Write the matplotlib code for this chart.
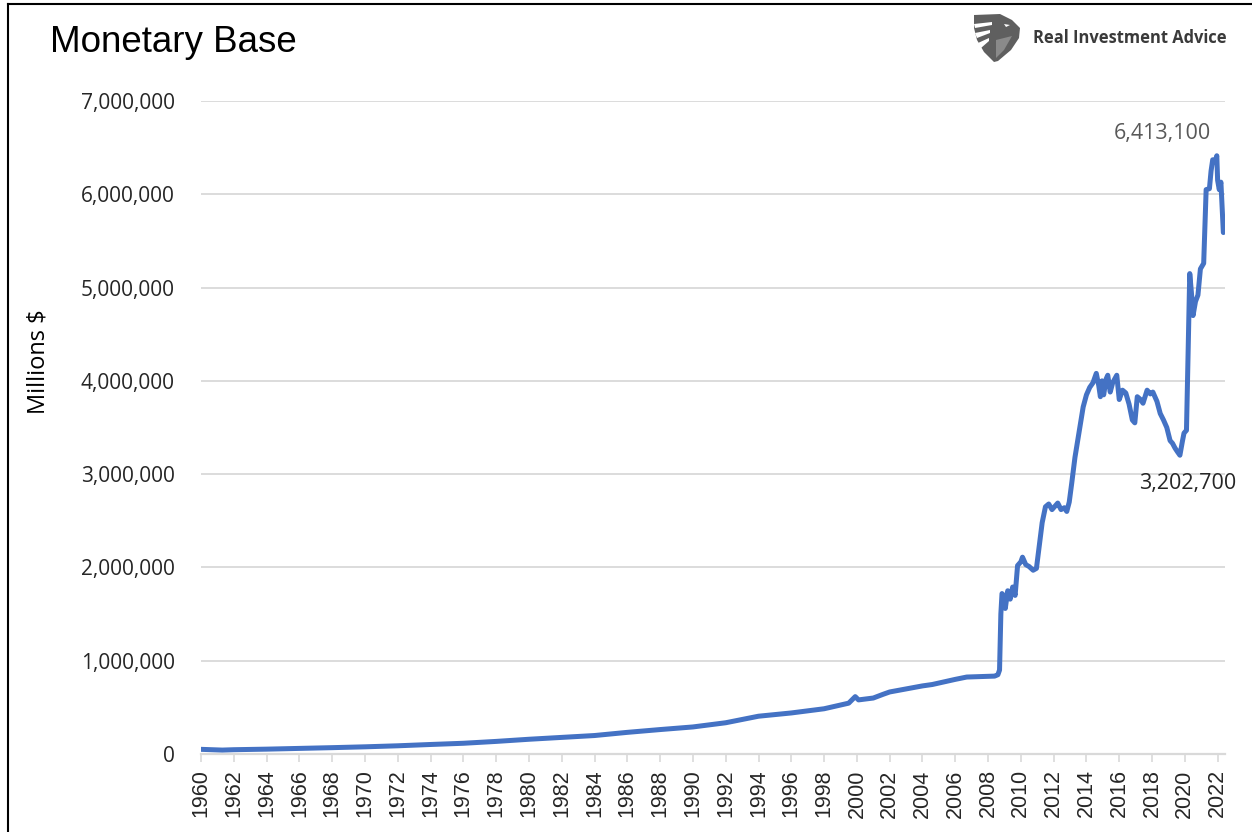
import matplotlib
matplotlib.use("Agg")
import matplotlib.pyplot as plt
from matplotlib.patches import Polygon
from matplotlib.lines import Line2D
from matplotlib.transforms import IdentityTransform

# ---- data (millions $) ----
years = [1960.0, 1961.3, 1962.0, 1964.0, 1966.0, 1968.0, 1970.0, 1972.0, 1974.0,
         1976.0, 1978.0, 1980.0, 1982.0, 1984.0, 1986.0, 1988.0, 1990.0, 1992.0,
         1994.0, 1996.0, 1998.0, 1999.5, 1999.9, 2000.1, 2001.0, 2001.6, 2002.0,
         2004.0, 2004.6, 2006.0, 2006.7, 2008.4, 2008.6, 2008.7, 2008.78, 2008.85,
         2008.95, 2009.05, 2009.2, 2009.35, 2009.5, 2009.65, 2009.8, 2010.0, 2010.1,
         2010.3, 2010.5, 2010.75, 2010.95, 2011.1, 2011.3, 2011.5, 2011.7, 2011.9,
         2012.1, 2012.25, 2012.45, 2012.65, 2012.8, 2012.95, 2013.1, 2013.3, 2013.55,
         2013.8, 2014.0, 2014.2, 2014.4, 2014.6, 2014.75, 2014.85, 2014.95, 2015.05,
         2015.2, 2015.3, 2015.45, 2015.6, 2015.85, 2016.0, 2016.2, 2016.4, 2016.6,
         2016.8, 2016.95, 2017.1, 2017.3, 2017.45, 2017.7, 2017.9, 2018.05, 2018.3,
         2018.5, 2018.7, 2018.9, 2019.1, 2019.25, 2019.4, 2019.55, 2019.7, 2019.85,
         2019.95, 2020.1, 2020.2, 2020.3, 2020.4, 2020.5, 2020.65, 2020.8, 2020.95,
         2021.15, 2021.3, 2021.5, 2021.6, 2021.7, 2021.85, 2021.95, 2022.0, 2022.1,
         2022.2, 2022.35]
values = [50000, 42000, 46000, 52000, 60000, 68000, 77000, 88000, 102000,
          115000, 135000, 158000, 178000, 198000, 232000, 262000, 290000, 335000,
          405000, 440000, 485000, 545000, 615000, 580000, 600000, 640000, 665000,
          730000, 745000, 800000, 825000, 835000, 850000, 900000, 1500000, 1720000,
          1700000, 1560000, 1750000, 1660000, 1790000, 1700000, 2020000, 2060000, 2110000,
          2030000, 2010000, 1970000, 1990000, 2200000, 2480000, 2650000, 2680000, 2620000,
          2660000, 2690000, 2620000, 2640000, 2600000, 2700000, 2900000, 3180000, 3450000,
          3720000, 3850000, 3930000, 3980000, 4080000, 3950000, 3830000, 4000000, 3850000,
          4020000, 4060000, 3880000, 3980000, 4060000, 3800000, 3900000, 3870000, 3750000,
          3580000, 3550000, 3830000, 3800000, 3760000, 3900000, 3860000, 3880000, 3780000,
          3650000, 3580000, 3500000, 3360000, 3330000, 3280000, 3240000, 3202700, 3350000,
          3440000, 3470000, 4300000, 5150000, 4950000, 4700000, 4850000, 4920000, 5200000,
          5260000, 6050000, 6060000, 6250000, 6370000, 6350000, 6413100, 6150000, 6050000,
          6130000, 5590000]

year_ticks = list(range(1960, 2023, 2))
value_ticks = [0, 1000000, 2000000, 3000000, 4000000, 5000000, 6000000, 7000000]
max_label = "6,413,100"
min_label = "3,202,700"
max_year, max_value = 2021.95, 6413100
min_year, min_value = 2019.7, 3202700

W, H = 1252, 832
fig = plt.figure(figsize=(W / 100, H / 100), dpi=100)
ax = fig.add_axes([201 / W, 1 - 754 / H, (1225 - 201) / W, (754 - 101) / H])

line_color = "#4472C4"
grid_color = "#D9D9D9"

ax.plot(years, values, color=line_color, lw=3.6, solid_joinstyle="round",
        solid_capstyle="round", zorder=3)

ax.set_xlim(1960, 2022.45)
ax.set_ylim(0, 7000000)
ax.set_yticks(value_ticks)
ax.set_yticklabels([f"{v:,}" for v in value_ticks], family="Open Sans",
                   fontsize=15, color="#262626")
ax.set_xticks(year_ticks)
ax.set_xticklabels([str(y) for y in year_ticks], rotation=90,
                   family="Liberation Sans", fontsize=15.5, color="#262626")
ax.grid(axis="y", color=grid_color, lw=1.3, zorder=0)
for s in ["top", "right", "left"]:
    ax.spines[s].set_visible(False)
ax.spines["bottom"].set_color(grid_color)
ax.spines["bottom"].set_linewidth(1.6)
ax.spines["bottom"].set_zorder(1)
ax.tick_params(axis="x", length=6, width=1.2, color=grid_color, pad=5)
ax.tick_params(axis="y", which="both", left=True, length=0, pad=19)

# y-axis label
fig.text(38 / W, 1 - 362 / H, "Millions $", family="Open Sans", fontsize=17,
         color="#000000", rotation=90, ha="center", va="center")

# annotations
ax.annotate(max_label, xy=(max_year, max_value), xytext=(1162, H - 133),
            textcoords="figure pixels", ha="center", va="center",
            family="Open Sans", fontsize=15.5, color="#595959")
ax.annotate(min_label, xy=(min_year, min_value), xytext=(1188, H - 483),
            textcoords="figure pixels", ha="center", va="center",
            family="Open Sans", fontsize=15.5, color="#262626")

# title
fig.text(50 / W, 1 - 43 / H, "Monetary Base", family="Liberation Sans",
         fontsize=26.5, color="#000000", ha="left", va="center")

# logo (simplified eagle shield) and brand text
def px_poly(points, color):
    p = Polygon([[x, H - y] for x, y in points], closed=True,
                facecolor=color, edgecolor="none")
    p.set_transform(IdentityTransform())
    fig.patches.append(p)

px_poly([[974, 15], [1000, 14], [1012, 20], [1020, 28], [1019, 38], [1011, 50],
         [998, 61], [994, 62], [984, 52], [977, 40], [974, 28]], "#5f5f5f")
for stripe in ([[974, 24], [992, 22], [992, 25], [975, 28]],
               [[975, 33], [990, 30], [990, 33], [977, 38]],
               [[978, 43], [989, 38], [989, 41], [981, 48]]):
    px_poly(stripe, "white")
px_poly([[996, 40], [1012, 36], [1004, 50], [996, 58]], "#8a8a8a")
px_poly([[1004, 24], [1010, 25], [1006, 27]], "white")

fig.text(1033 / W, 1 - 38 / H, "Real Investment Advice", family="Open Sans",
         fontweight="bold", fontsize=11.9, color="#3a3a3a", ha="left",
         va="center")

# border lines (left and top)
fig.add_artist(Line2D([8 / W, 8 / W], [0, 1 - 4 / H], color="black", lw=1.5,
                      transform=fig.transFigure))
fig.add_artist(Line2D([8 / W, 1], [1 - 4 / H, 1 - 4 / H], color="black", lw=1.5,
                      transform=fig.transFigure))

fig.savefig("out.png", dpi=100)
